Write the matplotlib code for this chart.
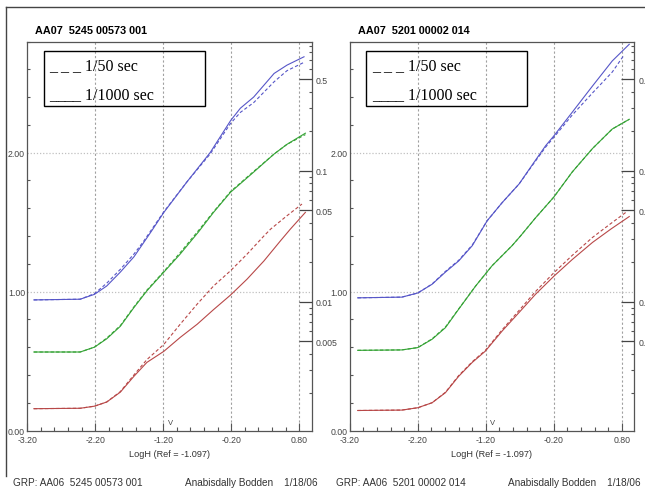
import matplotlib.pyplot as plt
from matplotlib.ticker import FixedLocator, MultipleLocator, LogLocator, NullFormatter
from matplotlib.lines import Line2D
from matplotlib.patches import Rectangle

# ---- data ----
titles = ['AA07  5245 00573 001', 'AA07  5201 00002 014']
groups = ['GRP: AA06  5245 00573 001', 'GRP: AA06  5201 00002 014']
footer = 'Anabisdally Bodden    1/18/06'
xlabel = 'LogH (Ref = -1.097)'
ref_logh = -1.097

xticks = [-3.2, -2.2, -1.2, -0.2, 0.8]
yticks = [0.0, 1.0, 2.0]
log_ticks = [0.005, 0.01, 0.05, 0.1, 0.5]
log_labels = ['0.005', '0.01', '0.05', '0.1', '0.5']

# left panel
l_blue_x = [-3.10, -2.42, -2.21, -2.03, -1.83, -1.63, -1.49, -1.365, -1.19, -0.85, -0.51, -0.21, -0.065, 0.13, 0.43, 0.62, 0.87]
l_blue_fast = [0.94, 0.945, 0.98, 1.04, 1.14, 1.25, 1.35, 1.44, 1.57, 1.79, 2.00, 2.23, 2.32, 2.40, 2.57, 2.63, 2.69]
l_blue_slow = [0.94, 0.945, 0.985, 1.06, 1.16, 1.27, 1.36, 1.45, 1.575, 1.79, 1.99, 2.21, 2.29, 2.36, 2.51, 2.59, 2.65]

l_green_x = [-3.10, -2.42, -2.21, -2.03, -1.83, -1.63, -1.44, -1.19, -0.95, -0.68, -0.46, -0.21, 0.13, 0.43, 0.62, 0.89]
l_green_fast = [0.565, 0.565, 0.60, 0.66, 0.75, 0.885, 1.005, 1.14, 1.27, 1.43, 1.57, 1.715, 1.86, 1.99, 2.06, 2.14]
l_green_slow = [0.565, 0.565, 0.60, 0.665, 0.755, 0.89, 1.01, 1.145, 1.28, 1.44, 1.575, 1.72, 1.865, 1.99, 2.06, 2.13]

l_red_x = [-3.10, -2.42, -2.21, -2.03, -1.83, -1.63, -1.44, -1.19, -0.95, -0.70, -0.46, -0.21, 0.034, 0.28, 0.525, 0.67, 0.89]
l_red_fast = [0.157, 0.16, 0.175, 0.205, 0.276, 0.39, 0.49, 0.57, 0.67, 0.765, 0.87, 0.975, 1.09, 1.22, 1.366, 1.45, 1.57]
l_red_slow_x = [-3.10, -2.42, -2.21, -2.03, -1.83, -1.63, -1.44, -1.19, -0.95, -0.70, -0.46, -0.21, 0.034, 0.28, 0.38, 0.62, 0.84]
l_red_slow = [0.157, 0.16, 0.175, 0.205, 0.28, 0.40, 0.51, 0.62, 0.765, 0.91, 1.04, 1.15, 1.27, 1.40, 1.45, 1.546, 1.63]

# right panel
r_blue_x = [-3.085, -2.435, -2.2, -1.99, -1.795, -1.60, -1.40, -1.18, -0.96, -0.71, -0.52, -0.32, -0.2, 0.07, 0.37, 0.66, 0.91]
r_blue_fast = [0.955, 0.96, 0.99, 1.053, 1.14, 1.22, 1.33, 1.51, 1.64, 1.775, 1.91, 2.05, 2.12, 2.29, 2.48, 2.66, 2.78]
r_blue_slow_x = [-3.085, -2.435, -2.2, -1.99, -1.795, -1.60, -1.40, -1.18, -0.96, -0.71, -0.52, -0.32, -0.2, 0.07, 0.37, 0.66, 0.83]
r_blue_slow = [0.955, 0.96, 0.99, 1.055, 1.145, 1.225, 1.335, 1.51, 1.64, 1.775, 1.905, 2.04, 2.11, 2.27, 2.43, 2.58, 2.70]

r_green_x = [-3.085, -2.435, -2.2, -1.99, -1.795, -1.60, -1.35, -1.11, -0.815, -0.69, -0.47, -0.2, 0.07, 0.37, 0.66, 0.91]
r_green_fast = [0.577, 0.58, 0.597, 0.657, 0.74, 0.873, 1.04, 1.185, 1.33, 1.40, 1.53, 1.68, 1.86, 2.03, 2.17, 2.24]
r_green_slow = [0.577, 0.58, 0.597, 0.66, 0.745, 0.875, 1.04, 1.185, 1.33, 1.40, 1.53, 1.68, 1.86, 2.03, 2.17, 2.24]

r_red_x = [-3.085, -2.435, -2.2, -1.99, -1.795, -1.60, -1.40, -1.21, -0.96, -0.71, -0.47, -0.2, 0.07, 0.37, 0.64, 0.91]
r_red_fast = [0.144, 0.147, 0.164, 0.2, 0.272, 0.39, 0.49, 0.57, 0.716, 0.85, 0.98, 1.11, 1.23, 1.354, 1.45, 1.54]
r_red_slow_x = [-3.085, -2.435, -2.2, -1.99, -1.795, -1.60, -1.40, -1.21, -0.96, -0.71, -0.47, -0.2, 0.07, 0.37, 0.64, 0.86]
r_red_slow = [0.144, 0.147, 0.164, 0.2, 0.275, 0.395, 0.495, 0.575, 0.725, 0.865, 1.0, 1.135, 1.26, 1.39, 1.49, 1.57]

BLUE, GREEN, RED = '#5656c8', '#36a336', '#b84848'
W, H = 645, 489

fig = plt.figure(figsize=(W / 100, H / 100), dpi=100)
fig.patch.set_facecolor('white')


def fx(p):
    return p / W


def fy(p):
    return 1 - p / H


# outer frame lines
fig.add_artist(Line2D([fx(5.5), 1.0], [fy(8.3), fy(8.3)], color='#444444', lw=1))
fig.add_artist(Line2D([fx(5.5), fx(5.5)], [fy(8.3), fy(477)], color='#444444', lw=1))

panels = [
    (27.1, 311.5, [(l_blue_x, l_blue_fast, l_blue_x, l_blue_slow, BLUE),
                   (l_green_x, l_green_fast, l_green_x, l_green_slow, GREEN),
                   (l_red_x, l_red_fast, l_red_slow_x, l_red_slow, RED)]),
    (349.9, 634.0, [(r_blue_x, r_blue_fast, r_blue_slow_x, r_blue_slow, BLUE),
                    (r_green_x, r_green_fast, r_green_x, r_green_slow, GREEN),
                    (r_red_x, r_red_fast, r_red_slow_x, r_red_slow, RED)]),
]
top, bottom = 42.5, 431.5
tick_font = dict(family='Liberation Sans', size=6.3)

for i, (left, right, curves) in enumerate(panels):
    ax = fig.add_axes([fx(left), fy(bottom), (right - left) / W, (bottom - top) / H])
    for xs, fast, xs2, slow, c in curves:
        ax.plot(xs2, slow, color=c, lw=0.8, ls=(0, (3, 2)))
        ax.plot(xs, fast, color=c, lw=0.8)
    ax.set_xlim(-3.2, 0.98)
    ax.set_ylim(0, 2.8)

    for s in ax.spines.values():
        s.set_color('#555555')
        s.set_linewidth(0.9)

    ax.xaxis.set_major_locator(FixedLocator(xticks))
    ax.set_xticklabels([f'{t:.2f}' for t in xticks], **tick_font, color='#444444')
    ax.xaxis.set_minor_locator(MultipleLocator(0.2))
    ax.yaxis.set_major_locator(FixedLocator(yticks))
    ax.set_yticklabels([f'{t:.2f}' for t in yticks], **tick_font, color='#444444')
    ax.yaxis.set_minor_locator(MultipleLocator(0.2))
    ax.tick_params(axis='x', which='major', direction='in', length=6, width=0.8,
                   color='#555555', pad=3)
    ax.tick_params(axis='x', which='minor', direction='in', length=3, width=0.8, color='#555555')
    ax.tick_params(axis='y', which='major', direction='in', length=0, pad=1.5)
    ax.tick_params(axis='y', which='minor', direction='in', length=2.2, width=0.8, color='#555555')

    for gx in xticks[1:]:
        ax.axvline(gx, color='#a0a0a0', lw=0.8, ls=(0, (2, 2)), zorder=0)
    for gy in yticks[1:]:
        ax.axhline(gy, color='#c0c0c0', lw=0.9, ls=(0, (1, 1.5)), zorder=0)

    ax.set_xlabel(xlabel, family='Liberation Sans', size=6.6, color='#333333', labelpad=3.5)
    ax.text(ref_logh, 0.012, 'V', transform=ax.get_xaxis_transform(), ha='center', va='bottom',
            family='Liberation Sans', size=5.5, color='#444444')

    ax2 = ax.twinx()
    ax2.set_yscale('log')
    ax2.set_ylim(0.00104, 0.968)
    ax2.yaxis.set_major_locator(FixedLocator(log_ticks))
    ax2.set_yticklabels(log_labels, **tick_font, color='#444444')
    ax2.yaxis.set_minor_locator(LogLocator(base=10, subs=range(2, 10)))
    ax2.yaxis.set_minor_formatter(NullFormatter())
    ax2.tick_params(axis='y', which='major', direction='in', length=9.5, width=0.9,
                    color='#444444', pad=3)
    ax2.tick_params(axis='y', which='minor', direction='in', length=2.2, width=0.8, color='#555555')
    for s in ax2.spines.values():
        s.set_visible(False)

    # hand-drawn legend box
    lx0 = left + 16.5
    fig.add_artist(Rectangle((fx(lx0), fy(107)), 161 / W, 55 / H, fill=False,
                             edgecolor='black', lw=1, transform=fig.transFigure))
    fig.text(fx(lx0 + 6), fy(66.5), '_ _ _ 1/50 sec', family='Liberation Serif', size=11.5,
             va='center', ha='left')
    fig.text(fx(lx0 + 6), fy(95), '____ 1/1000 sec', family='Liberation Serif', size=11.5,
             va='center', ha='left')

    fig.text(fx(left + 8), fy(31), titles[i], family='Liberation Sans', weight='bold', size=7.8,
             va='center', ha='left')
    fig.text(fx(left - 14), fy(483), groups[i], family='Liberation Sans', size=7.2,
             color='#333333', va='center', ha='left')
    fig.text(fx(right + 6.5), fy(483), footer, family='Liberation Sans', size=7.2,
             color='#333333', va='center', ha='right')

fig.savefig('out.png', dpi=100)
